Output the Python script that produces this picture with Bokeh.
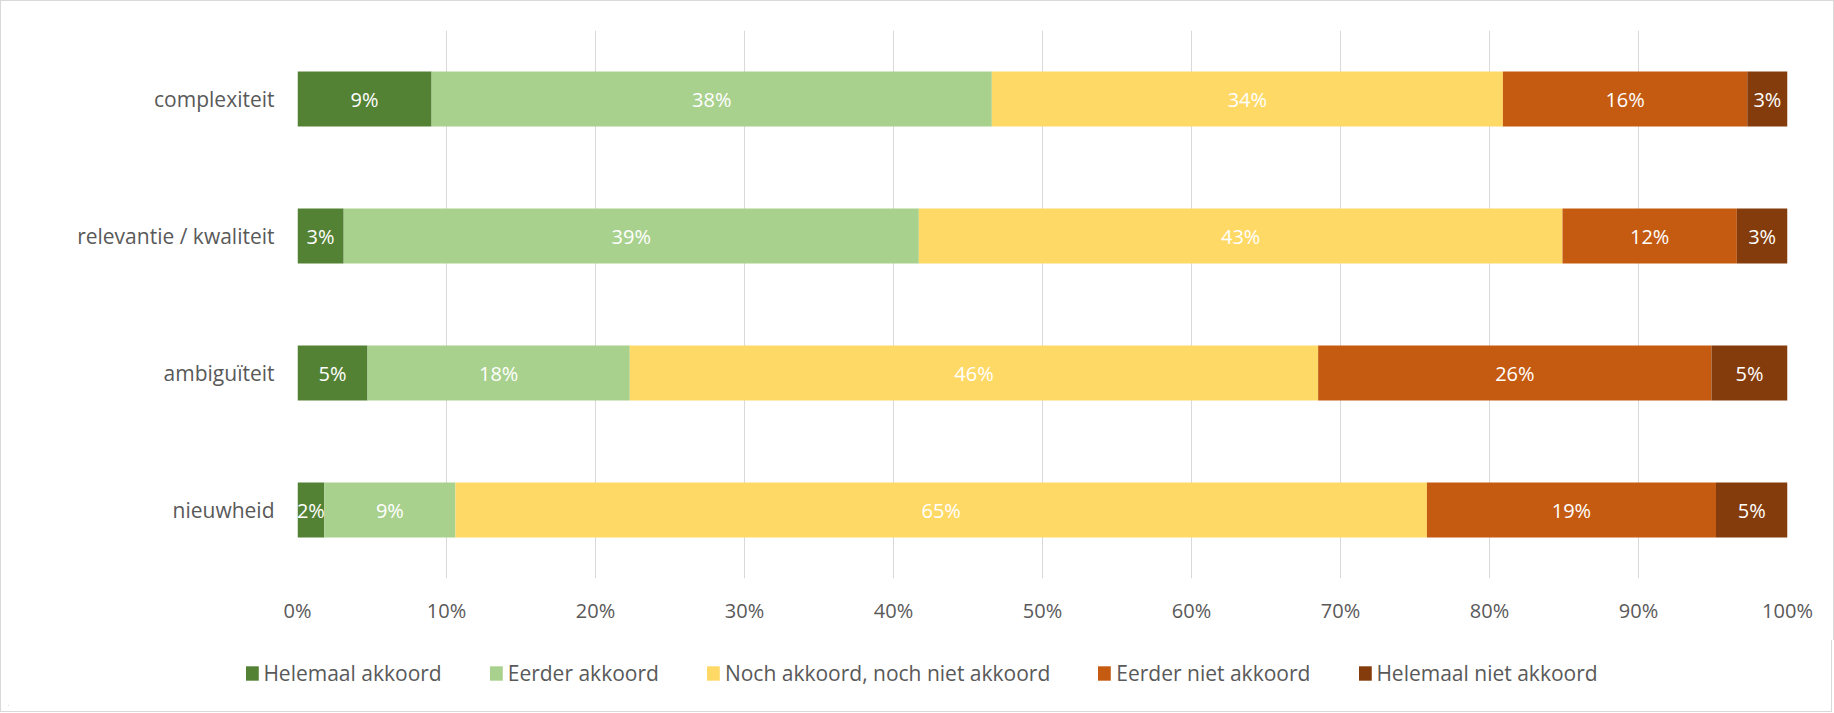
from bokeh.plotting import figure
from bokeh.models import ColumnDataSource, FixedTicker, Legend, LegendItem
from bokeh.core.properties import value
from bokeh.embed import file_html
from bokeh.resources import INLINE

categories = ["complexiteit", "relevantie / kwaliteit", "ambiguïteit", "nieuwheid"]
series = ["Helemaal akkoord", "Eerder akkoord", "Noch akkoord, noch niet akkoord",
          "Eerder niet akkoord", "Helemaal niet akkoord"]
helemaal_akkoord = [9.0, 3.1, 4.7, 1.8]
eerder_akkoord = [37.6, 38.6, 17.6, 8.8]
noch_noch = [34.3, 43.2, 46.2, 65.2]
eerder_niet_akkoord = [16.4, 11.7, 26.4, 19.4]
helemaal_niet_akkoord = [2.7, 3.4, 5.1, 4.8]
colors = ["#548235", "#A9D18E", "#FFD966", "#C55A11", "#843C0C"]
tick_values = [0, 10, 20, 30, 40, 50, 60, 70, 80, 90, 100]
tick_labels = ["0%", "10%", "20%", "30%", "40%", "50%", "60%", "70%", "80%", "90%", "100%"]

FONT = "Open Sans"
GRAY = "#595959"
BORDER = "1px solid #D9D9D9"

keys = ["s0", "s1", "s2", "s3", "s4"]
series_values = [helemaal_akkoord, eerder_akkoord, noch_noch, eerder_niet_akkoord, helemaal_niet_akkoord]
data = {"cat": categories}
for k, v in zip(keys, series_values):
    data[k] = v
source = ColumnDataSource(data)

p = figure(y_range=list(reversed(categories)), x_range=(0, 100),
           frame_width=1490, frame_height=548,
           min_border_left=296, min_border_right=46, min_border_top=29, min_border_bottom=62,
           output_backend="svg", toolbar_location=None, tools="")
p.styles = {"border-top": BORDER, "border-left": BORDER, "border-right": BORDER}

renderers = p.hbar_stack(keys, y="cat", height=0.4, color=colors, line_color=None, source=source)

# data labels, centred in each segment
lx, ly, lt = [], [], []
for i, cat in enumerate(categories):
    left = 0.0
    for vals in series_values:
        v = vals[i]
        lx.append(left + v / 2)
        ly.append(cat)
        lt.append(f"{round(v)}%")
        left += v
lsrc = ColumnDataSource(dict(x=lx, y=ly, text=lt))
p.text(x="x", y="y", text="text", source=lsrc, text_color="white",
       text_font=value(FONT), text_font_size="20px",
       text_align="center", text_baseline="middle")

p.outline_line_color = None
p.ygrid.grid_line_color = None
p.xgrid.grid_line_color = "#D9D9D9"
p.xgrid.grid_line_width = 1
p.xgrid.ticker = FixedTicker(ticks=tick_values)

p.xaxis.ticker = FixedTicker(ticks=tick_values)
p.xaxis.major_label_overrides = {t: l for t, l in zip(tick_values, tick_labels)}
for ax in (p.xaxis, p.yaxis):
    ax.axis_line_color = None
    ax.major_tick_line_color = None
    ax.minor_tick_line_color = None
    ax.major_label_text_font = FONT
    ax.major_label_text_color = GRAY
p.xaxis.major_label_text_font_size = "20px"
p.yaxis.major_label_text_font_size = "21px"
p.xaxis.major_label_standoff = 12
p.yaxis.major_label_standoff = 17

# legend in its own strip below the chart (separate root, no frame alignment)
lg = figure(width=1832, height=72, x_range=(0, 1), y_range=(0, 1),
            min_border_left=7, min_border_right=0, min_border_top=0, min_border_bottom=7,
            output_backend="svg", toolbar_location=None, tools="",
            x_axis_type=None, y_axis_type=None)
lg.styles = {"border-bottom": BORDER, "border-left": BORDER, "border-right": BORDER}
lg.outline_line_color = None
lg.grid.grid_line_color = None
# off-screen swatch renderers that only provide the legend glyph styling
dummies = [lg.hbar(y=[-10], left=[-10], right=[-9], height=1, color=c, line_color=None)
           for c in colors]
items = [LegendItem(label=s, renderers=[r]) for s, r in zip(series, dummies)]
legend = Legend(items=items, orientation="horizontal", location="center",
                padding=0, margin=0, spacing=46, label_standoff=4,
                glyph_width=16, glyph_height=18,
                label_text_font=FONT, label_text_font_size="21px",
                label_text_color=GRAY,
                border_line_color=None, background_fill_alpha=0)
lg.add_layout(legend, "center")

open("out.html", "w").write(file_html([p, lg], INLINE))
